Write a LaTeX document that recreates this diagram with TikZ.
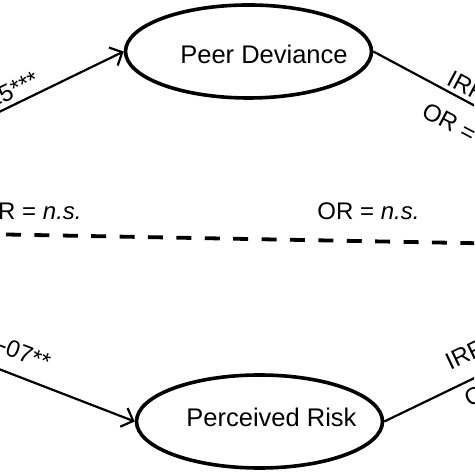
\documentclass[tikz,border=0pt]{standalone}
\usepackage{fontspec}
\setmainfont{Liberation Sans}
\usetikzlibrary{shapes.geometric}
\usetikzlibrary{arrows.meta}

\begin{document}
\begin{tikzpicture}[x=0.5pt, y=0.5pt,
  latent/.style={draw, ellipse, line width=1.8pt, minimum width=123pt, minimum height=46.5pt, inner sep=0pt},
  conn/.style={line width=1.1pt},
  coef/.style={inner sep=0pt, font=\fontsize{12}{14}\selectfont}]
\useasboundingbox (0, 0) rectangle (474, 474);
\clip (0, 0) rectangle (474, 474);

\node [latent] (pd) at (248.5, 422.5) {};
\node [inner sep=0pt, font=\fontsize{12.75}{15}\selectfont] (pdtext) at (264, 420) {Peer Deviance};
\node [latent] (pr) at (259.5, 52.5) {};
\node [inner sep=0pt, font=\fontsize{12.75}{15}\selectfont] (prtext) at (271.5, 57) {Perceived Risk};

\coordinate (tl) at (-40, 343);
\coordinate (bl) at (-40, 120);
\coordinate (tr) at (520, 344);
\coordinate (br) at (520, 118);
\coordinate (dl) at (6, 239.5);
\coordinate (dr) at (490, 230.5);

\draw [conn, arrows={-Straight Barb[length=5pt, width=10pt]}] (tl) -- (pd.west);
\draw [conn, arrows={-Straight Barb[length=5pt, width=10pt]}] (bl) -- (pr.west);
\draw [conn] (pd.east) -- (tr);
\draw [conn] (pr.east) -- (br);
\draw [line width=1.9pt, dash pattern=on 7.5pt off 6.7pt] (dl) -- (dr);

\node [coef, rotate=25.7, anchor=base east] (c1) at (41, 389) {.25***};
\node [coef, rotate=-20.9, anchor=base east] (c2) at (47, 103) {-07**};
\node [coef, rotate=-27.9, anchor=base west] (c3) at (445, 390) {IRR};
\node [coef, rotate=-27.9, anchor=base west] (c4) at (420, 358) {OR =};
\node [coef, rotate=25.4, anchor=base west] (c5) at (450, 103) {IRR};
\node [coef, rotate=25.4, anchor=base west] (c6) at (469, 66) {OR};
\node [coef, anchor=base east] (c7) at (82, 254) {IRR = \textit{n.s.}};
\node [coef, anchor=base west] (c8) at (317, 254) {OR = \textit{n.s.}};
\end{tikzpicture}
\end{document}
